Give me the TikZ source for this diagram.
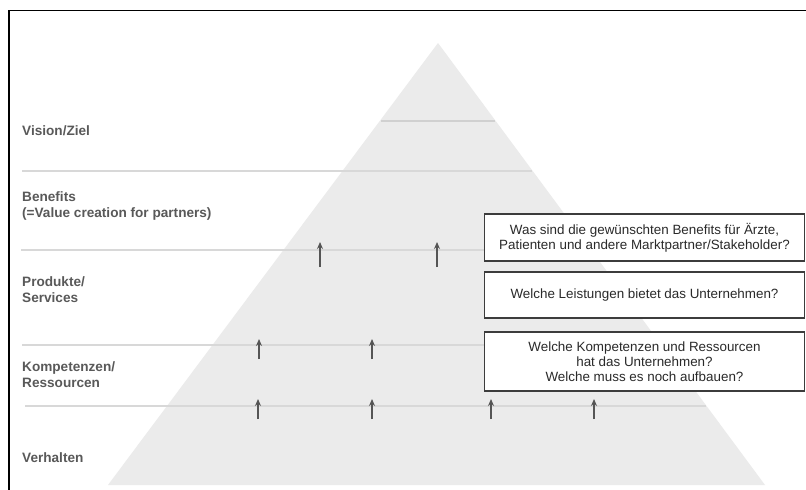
\documentclass[tikz,border=0pt]{standalone}
\usepackage{fontspec}
\setmainfont{Liberation Sans}
\usetikzlibrary{arrows.meta}
\definecolor{pyr}{HTML}{EBEBEB}
\definecolor{sep}{HTML}{D8D8D8}
\definecolor{sepdark}{HTML}{D0D0D0}
\definecolor{lbl}{HTML}{595959}
\definecolor{boxtxt}{HTML}{2A2A2A}
\definecolor{boxline}{HTML}{3C3C3C}
\definecolor{arr}{HTML}{555555}
\tikzset{
  layerlabel/.style={anchor=west, inner sep=0pt, align=left, text=lbl,
    font=\fontsize{13.6}{16}\selectfont\bfseries},
  qbox/.style={draw=boxline, line width=1.5pt, fill=white, minimum width=320pt,
    inner sep=0pt, align=center, text=boxtxt,
    font=\fontsize{13.4}{15.2}\selectfont},
  sepline/.style={draw=sep, line width=2pt},
  upar/.style={draw=arr, line width=1.6pt, -{Stealth[length=7pt,width=6pt]}},
}
\begin{document}
\begin{tikzpicture}[x=1pt,y=-1pt]
\useasboundingbox (0,0) rectangle (806,490);
\fill[white] (0,0) rectangle (806,490);
% frame
\draw[black, line width=1.2pt] (9,490) -- (9,10.7) -- (806,10.7);
% pyramid
\fill[pyr] (438,43) -- (108,485) -- (765,485) -- cycle;
% separating lines
\draw[draw=sepdark, line width=2pt] (381,121) -- (495,121);
\draw[sepline] (22,170.5) -- (532,170.5);
\draw[sepline] (21,250) -- (592,250);
\draw[sepline] (22,345) -- (662,345);
\draw[sepline] (25,406) -- (706,406);
% labels
\node[layerlabel] (lv) at (22,131) {Vision/Ziel};
\node[layerlabel] (lb) at (22,206) {Benefits\\(=Value creation for partners)};
\node[layerlabel] (lp) at (22,290) {Produkte/\\Services};
\node[layerlabel] (lk) at (22,375) {Kompetenzen/\\Ressourcen};
\node[layerlabel] (lh) at (22,458) {Verhalten};
% arrows
\foreach \x in {320,437} \draw[upar] (\x,267) -- (\x,242);
\foreach \x in {259,372} \draw[upar] (\x,359) -- (\x,339);
\foreach \x in {258,372,491,594} \draw[upar] (\x,419) -- (\x,399);
% boxes
\node[qbox, minimum height=47pt] (b1) at (644.5,237.5)
  {Was sind die gewünschten Benefits für Ärzte,\\Patienten und andere Marktpartner/Stakeholder?};
\node[qbox, minimum height=46pt] (b2) at (644.5,295)
  {Welche Leistungen bietet das Unternehmen?};
\node[qbox, minimum height=59pt] (b3) at (644.5,361.5)
  {Welche Kompetenzen und Ressourcen\\hat das Unternehmen?\\Welche muss es noch aufbauen?};
\end{tikzpicture}
\end{document}
